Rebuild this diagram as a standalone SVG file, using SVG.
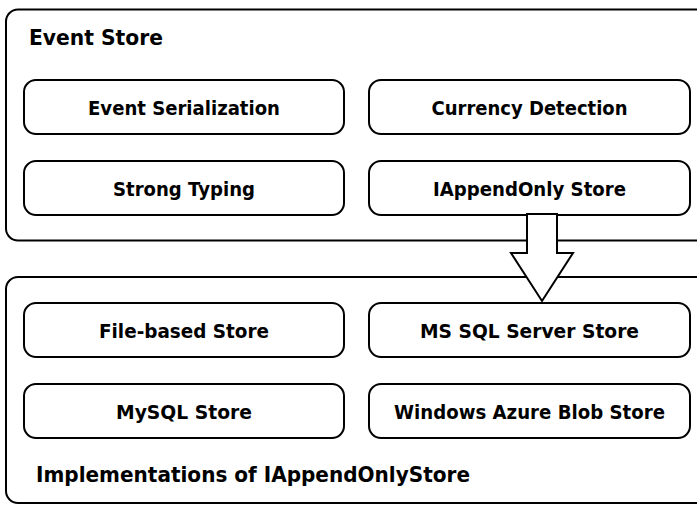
<svg xmlns="http://www.w3.org/2000/svg" width="697" height="505" viewBox="0 0 697 505">
<style>
.container{fill:#fff;stroke:#000;stroke-width:2}
.box{fill:#fff;stroke:#000;stroke-width:2}
.lbl{font-family:"DejaVu Sans","Liberation Sans",sans-serif;font-weight:bold;font-size:19px;fill:#000;text-anchor:middle}
.title{font-family:"DejaVu Sans","Liberation Sans",sans-serif;font-weight:bold;font-size:21px;fill:#000}
.arrow{fill:#fff;stroke:#000;stroke-width:2;stroke-linejoin:miter}
</style>
<rect width="697" height="505" fill="#fff"/>
<g id="event-store">
<rect class="container" x="6" y="9.5" width="720" height="231" rx="12"/>
<text class="title" x="29" y="45" textLength="134" lengthAdjust="spacingAndGlyphs">Event Store</text>
</g>
<g id="event-serialization">
<rect class="box" x="24" y="80" width="320" height="54" rx="12"/>
<text class="lbl" x="184" y="115" textLength="192" lengthAdjust="spacingAndGlyphs">Event Serialization</text>
</g>
<g id="currency-detection">
<rect class="box" x="369" y="80" width="321" height="54" rx="12"/>
<text class="lbl" x="529.5" y="115" textLength="196" lengthAdjust="spacingAndGlyphs">Currency Detection</text>
</g>
<g id="strong-typing">
<rect class="box" x="24" y="161" width="320" height="54" rx="12"/>
<text class="lbl" x="184" y="196" textLength="142" lengthAdjust="spacingAndGlyphs">Strong Typing</text>
</g>
<g id="iappendonly-store">
<rect class="box" x="369" y="161" width="321" height="54" rx="12"/>
<text class="lbl" x="529.5" y="196" textLength="193" lengthAdjust="spacingAndGlyphs">IAppendOnly Store</text>
</g>
<g id="implementations">
<rect class="container" x="6" y="277" width="720" height="226" rx="12"/>
<text class="title" x="36" y="482" textLength="434" lengthAdjust="spacingAndGlyphs">Implementations of IAppendOnlyStore</text>
</g>
<g id="file-based-store">
<rect class="box" x="24" y="303" width="320" height="54" rx="12"/>
<text class="lbl" x="184" y="338" textLength="170" lengthAdjust="spacingAndGlyphs">File-based Store</text>
</g>
<g id="ms-sql-server-store">
<rect class="box" x="369" y="303" width="321" height="54" rx="12"/>
<text class="lbl" x="529.5" y="338" textLength="219" lengthAdjust="spacingAndGlyphs">MS SQL Server Store</text>
</g>
<g id="mysql-store">
<rect class="box" x="24" y="384" width="320" height="54" rx="12"/>
<text class="lbl" x="184" y="419" textLength="136" lengthAdjust="spacingAndGlyphs">MySQL Store</text>
</g>
<g id="windows-azure-blob-store">
<rect class="box" x="369" y="384" width="321" height="54" rx="12"/>
<text class="lbl" x="529.5" y="419" textLength="271" lengthAdjust="spacingAndGlyphs">Windows Azure Blob Store</text>
</g>
<g id="connectors">
<polygon class="arrow" points="527,214 557,214 557,253 573,253 542,301 511,253 527,253"/>
</g>
</svg>
